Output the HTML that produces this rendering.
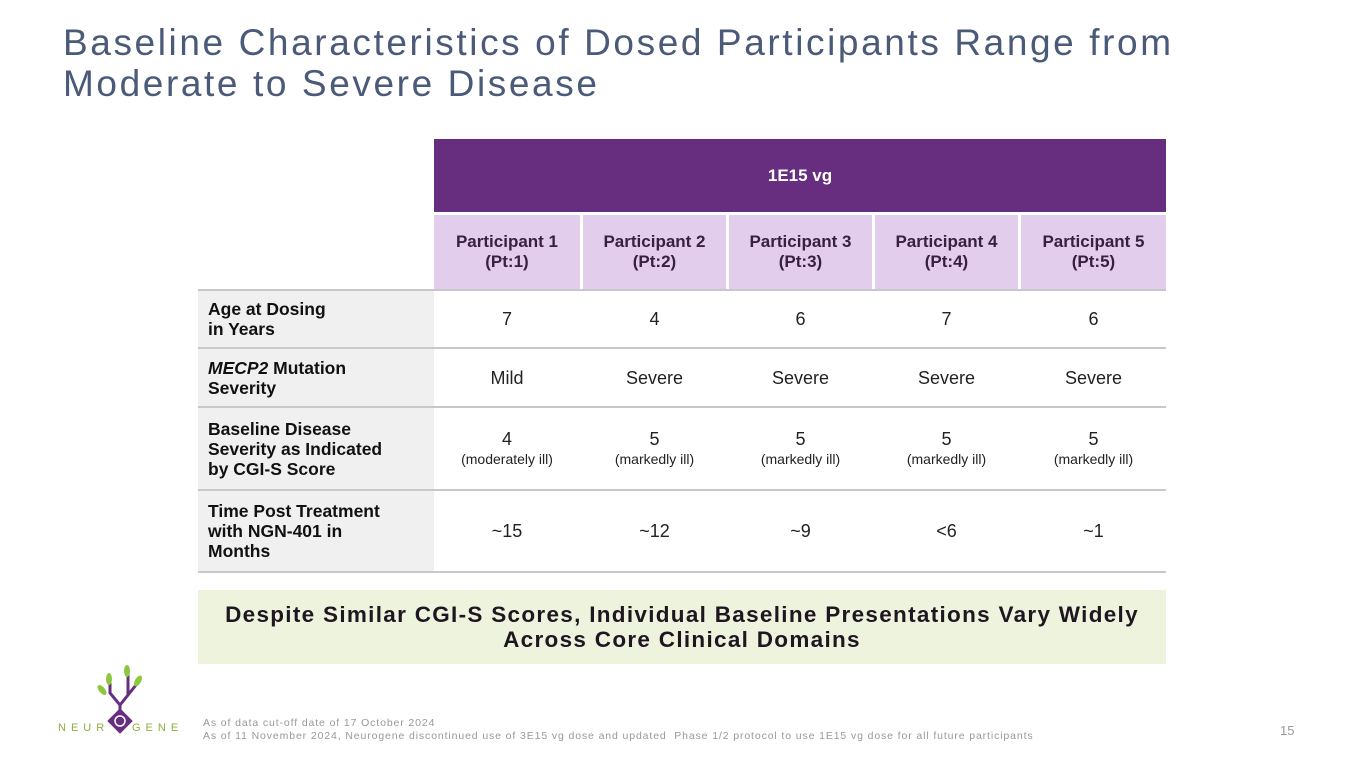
<!DOCTYPE html>
<html><head><meta charset="utf-8"><style>
body{margin:0;width:1365px;height:768px;background:#fff;position:relative;overflow:hidden;font-family:"Liberation Sans",sans-serif;}
.a{position:absolute;box-sizing:border-box;}
.title{left:63px;top:22px;font-size:37px;line-height:41px;color:#4a5a78;letter-spacing:2.6px;white-space:nowrap;}
.hdr{left:434px;top:139px;width:732px;height:73px;background:#672d7e;color:#fff;font-weight:bold;font-size:17px;display:flex;align-items:center;justify-content:center;}
.sub{top:215px;height:74px;background:#e2cdec;color:#3a2040;font-weight:bold;font-size:17px;display:flex;align-items:center;justify-content:center;text-align:center;line-height:20px;}
.lab{left:198px;width:236px;background:#f0f0f0;font-weight:bold;font-size:17.5px;line-height:20px;color:#111;display:flex;align-items:center;padding-left:10px;}
.cell{font-size:18px;color:#222;display:flex;align-items:center;justify-content:center;text-align:center;line-height:20px;flex-direction:column;}
.cell small{font-size:14px;}
.line{left:198px;width:968px;height:2px;background:#c8c8c8;}
.note{left:198px;top:590px;width:968px;height:74px;background:#eef3dd;color:#1e1620;font-weight:bold;font-size:22.5px;letter-spacing:1.3px;text-align:center;line-height:25px;padding-top:12px;white-space:nowrap;}
.foot{left:203px;top:717px;font-size:10.5px;color:#999;line-height:13px;letter-spacing:0.88px;white-space:nowrap;}
</style></head><body>
<div class="a title">Baseline Characteristics of Dosed Participants Range from<br>Moderate to Severe Disease</div>
<div class="a hdr">1E15 vg</div>
<div id="t"></div>
<div class="a note">Despite Similar CGI-S Scores, Individual Baseline Presentations Vary Widely<br>Across Core Clinical Domains</div>
<div class="a" style="left:80px;top:665px;width:80px;height:75px">
<svg width="80" height="75"><path d="M40 58 L40 40 L30 28 L30 18 M40 40 L48 30 L48 8 M48 30 L56 20" stroke="#672d7e" stroke-width="3" fill="none"/>
<ellipse cx="29" cy="14" rx="3" ry="6" fill="#8dc63f"/><ellipse cx="47" cy="6" rx="3" ry="6" fill="#8dc63f"/><ellipse cx="58" cy="16" rx="3" ry="6" fill="#8dc63f" transform="rotate(30 58 16)"/><ellipse cx="22" cy="25" rx="3" ry="6" fill="#8dc63f" transform="rotate(-40 22 25)"/>
<rect x="31" y="47" width="18" height="18" fill="#672d7e" transform="rotate(45 40 56)"/><circle cx="40" cy="56" r="5" fill="none" stroke="#fff" stroke-width="1.5"/></svg></div>
<div class="a" style="left:58px;top:722px;font-size:11px;letter-spacing:5px;color:#8dae3f">NEUR</div>
<div class="a" style="left:132px;top:722px;font-size:11px;letter-spacing:5px;color:#8dae3f">GENE</div>
<div class="a foot">As of data cut-off date of 17 October 2024<br>As of 11 November 2024, Neurogene discontinued use of 3E15 vg dose and updated&nbsp; Phase 1/2 protocol to use 1E15 vg dose for all future participants</div>
<div class="a" style="left:1280px;top:723px;font-size:13px;color:#999">15</div>
<script>
const cols=[[434,146],[583,143],[729,143],[875,143],[1021,145]];
const heads=["Participant 1<br>(Pt:1)","Participant 2<br>(Pt:2)","Participant 3<br>(Pt:3)","Participant 4<br>(Pt:4)","Participant 5<br>(Pt:5)"];
const rows=[[290,58,"Age at Dosing<br>in Years",["7","4","6","7","6"]],
[348,59,"<i>MECP2</i> Mutation<br>Severity",["Mild","Severe","Severe","Severe","Severe"]],
[407,83,"Baseline Disease<br>Severity as Indicated<br>by CGI-S Score",["4<small>(moderately ill)</small>","5<small>(markedly ill)</small>","5<small>(markedly ill)</small>","5<small>(markedly ill)</small>","5<small>(markedly ill)</small>"]],
[490,82,"Time Post Treatment<br>with NGN-401 in<br>Months",["~15","~12","~9","&lt;6","~1"]]];
const t=document.getElementById('t');let h='';
cols.forEach((c,i)=>{h+=`<div class="a sub" style="left:${c[0]}px;width:${c[1]}px">${heads[i]}</div>`;});
rows.forEach((r,ri)=>{
h+=`<div class="a line" style="top:${r[0]-1}px"></div>`;
h+=`<div class="a lab" style="top:${r[0]+1}px;height:${r[1]-2}px"><div>${r[2]}</div></div>`;
cols.forEach((c,i)=>{h+=`<div class="a cell" style="left:${c[0]}px;width:${c[1]}px;top:${r[0]+1}px;height:${r[1]-2}px">${r[3][i]}</div>`;});
});
h+=`<div class="a line" style="top:571px"></div>`;
t.innerHTML=h;
</script>
</body></html>
